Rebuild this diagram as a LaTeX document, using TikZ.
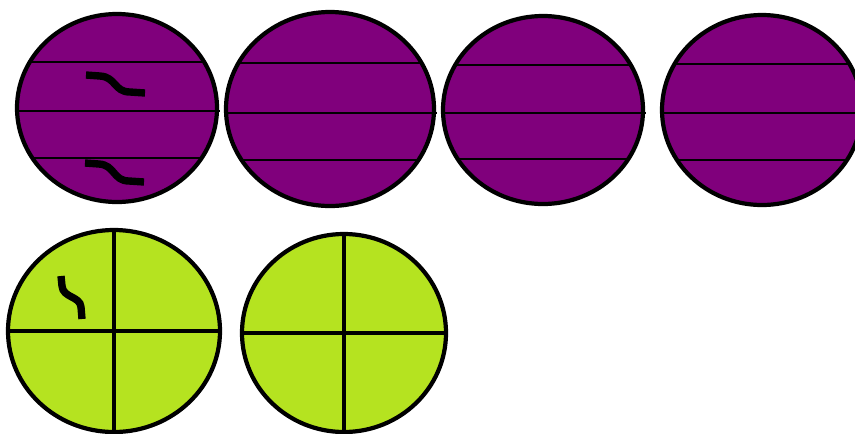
\documentclass[tikz,border=0pt]{standalone}
\definecolor{plum}{RGB}{128,0,124}
\definecolor{lime}{RGB}{181,227,32}
\tikzset{
  disc/.style={draw=black,line width=2.4pt},
  cut/.style={line width=1.6pt},
  cross/.style={line width=2.2pt},
  tick/.style={line width=4.2pt}
}
\begin{document}
\begin{tikzpicture}[x=0.02cm,y=-0.02cm]
  \useasboundingbox (0,0) rectangle (855,433);
  \clip (0,0) rectangle (855,433);
  % purple discs, four strips each
  \foreach \cx/\cy/\rx/\ry/\ya/\yb/\yc in {117/108/100/94/62/111/158, 330/109/104/97/63/113/160,
      543/110/100/94/65/113/159, 762/110/100/95/64/113/160} {
    \fill[plum] (\cx,\cy) ellipse [x radius=\rx, y radius=\ry];
    \begin{scope}
      \clip (\cx,\cy) ellipse [x radius=\rx, y radius=\ry];
      \draw[cut] ({\cx-\rx},\ya) -- ({\cx+\rx},\ya);
      \draw[cut] ({\cx-\rx},\yc) -- ({\cx+\rx},\yc);
    \end{scope}
    \draw[cut] ({\cx-\rx},\yb) -- ({\cx+\rx+3},\yb);
    \draw[disc] (\cx,\cy) ellipse [x radius=\rx, y radius=\ry];
  }
  \draw[tick] (86,75) -- (100,76) .. controls (116,77) and (114,92) .. (130,92) -- (145,93);
  \draw[tick] (85,163) -- (99,164) .. controls (115,165) and (113,181) .. (129,181) -- (144,182);
  % green discs, quarters
  \foreach \cx/\cy/\rx/\ry in {114/331/106/101, 344/333/102/99} {
    \fill[lime] (\cx,\cy) ellipse [x radius=\rx, y radius=\ry];
    \draw[cross] ({\cx-\rx},\cy) -- ({\cx+\rx},\cy);
    \draw[cross] (\cx,{\cy-\ry}) -- (\cx,{\cy+\ry});
    \draw[disc] (\cx,\cy) ellipse [x radius=\rx, y radius=\ry];
  }
  \draw[tick] (61,276) -- (62,286) .. controls (63,298) and (80,296) .. (81,307) -- (82,319);
\end{tikzpicture}
\end{document}
